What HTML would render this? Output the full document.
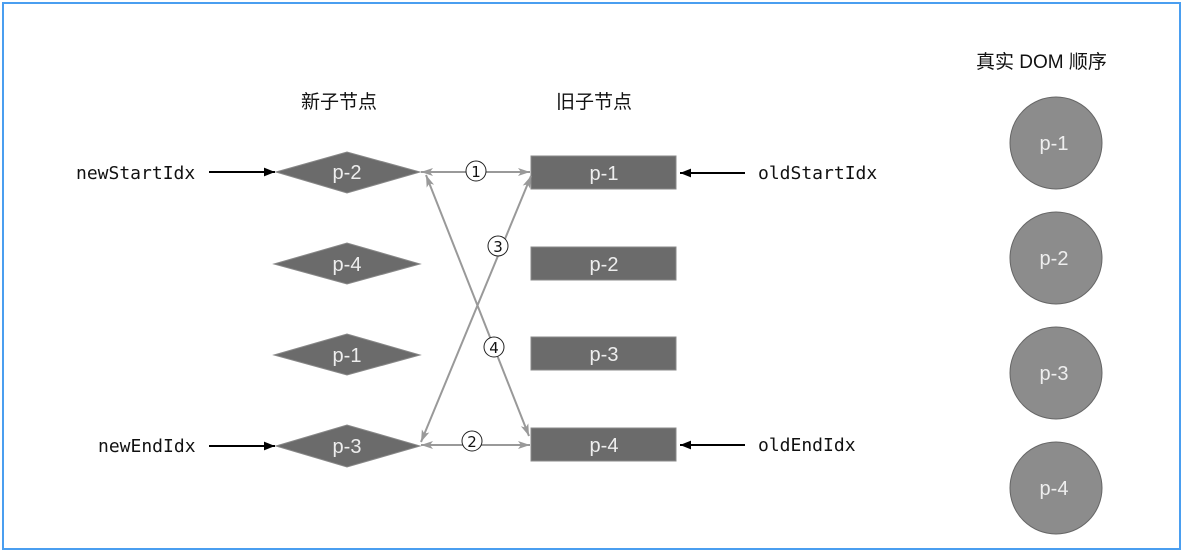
<!DOCTYPE html>
<html><head><meta charset="utf-8"><style>
body{margin:0;background:#fff;}
svg{display:block}
.m{font-family:"DejaVu Sans Mono","Liberation Mono",monospace;font-size:18px;fill:#111}
.w{font-family:"Liberation Sans",sans-serif;font-size:20px;fill:#eee}
.h{font-family:"Liberation Sans","Noto Sans CJK SC",sans-serif;font-size:19px;fill:#111}
</style></head><body>
<svg width="1184" height="555" viewBox="0 0 1184 555" xmlns="http://www.w3.org/2000/svg">
<defs>
<marker id="b" viewBox="0 0 10 10" refX="10" refY="5" markerWidth="11" markerHeight="11" markerUnits="userSpaceOnUse" orient="auto-start-reverse"><path d="M0,1 L10,5 L0,9 z" fill="#000"/></marker>
<marker id="g" viewBox="0 0 12 10" refX="12" refY="5" markerWidth="14" markerHeight="10" markerUnits="userSpaceOnUse" orient="auto-start-reverse"><path d="M0,1 L12,5 L0,9 L3,5 z" fill="#999"/></marker>
</defs>
<rect x="3" y="3" width="1177" height="546" fill="none" stroke="#4a9ef0" stroke-width="2"/>
<text class="h" x="301" y="108">新子节点</text>
<text class="h" x="556" y="108">旧子节点</text>
<text class="h" x="976" y="68">真实 DOM 顺序</text>
<g fill="#6b6b6b" stroke="#888" stroke-width="1">
<polygon points="276,172 347,152 420,172 347,193"/>
<polygon points="274,264 347,243 420,264 347,284"/>
<polygon points="274,355 347,334 420,355 347,375"/>
<polygon points="276,446 347,425 420,446 347,467"/>
<rect x="531" y="156" width="145" height="33"/>
<rect x="531" y="247" width="145" height="33"/>
<rect x="531" y="337" width="145" height="33"/>
<rect x="531" y="428" width="145" height="33"/>
</g>
<g class="w" text-anchor="middle">
<text x="347" y="179">p-2</text><text x="347" y="271">p-4</text><text x="347" y="362">p-1</text><text x="347" y="453">p-3</text>
<text x="604" y="180">p-1</text><text x="604" y="271">p-2</text><text x="604" y="361">p-3</text><text x="604" y="452">p-4</text>
</g>
<g fill="#8c8c8c" stroke="#666" stroke-width="1">
<circle cx="1056" cy="143" r="46"/><circle cx="1056" cy="258" r="46"/><circle cx="1056" cy="373" r="46"/><circle cx="1056" cy="488" r="46"/>
</g>
<g class="w" text-anchor="middle">
<text x="1054" y="150">p-1</text><text x="1054" y="265">p-2</text><text x="1054" y="380">p-3</text><text x="1054" y="495">p-4</text>
</g>
<g stroke="#999" stroke-width="2" fill="none">
<line x1="421" y1="172" x2="530" y2="172" marker-start="url(#g)" marker-end="url(#g)"/>
<line x1="421" y1="445" x2="530" y2="445" marker-start="url(#g)" marker-end="url(#g)"/>
<line x1="426" y1="175" x2="529" y2="436" marker-start="url(#g)" marker-end="url(#g)"/>
<line x1="421" y1="442" x2="531" y2="176" marker-start="url(#g)" marker-end="url(#g)"/>
</g>
<g font-family="DejaVu Sans,sans-serif" fill="#111" text-anchor="middle">
<circle cx="476" cy="171" r="10" fill="#fff" stroke="#222"/><text x="476" y="177" font-size="15">1</text>
<circle cx="498" cy="246" r="10" fill="#fff" stroke="#222"/><text x="498" y="252" font-size="15">3</text>
<circle cx="494" cy="347" r="10" fill="#fff" stroke="#222"/><text x="494" y="353" font-size="15">4</text>
<circle cx="472" cy="441" r="10" fill="#fff" stroke="#222"/><text x="472" y="447" font-size="15">2</text>
</g>
<g stroke="#000" stroke-width="2">
<line x1="209" y1="172" x2="275" y2="172" marker-end="url(#b)"/>
<line x1="209" y1="446" x2="275" y2="446" marker-end="url(#b)"/>
<line x1="745" y1="173" x2="680" y2="173" marker-end="url(#b)"/>
<line x1="745" y1="445" x2="680" y2="445" marker-end="url(#b)"/>
</g>
<text class="m" x="76" y="179">newStartIdx</text>
<text class="m" x="98" y="452">newEndIdx</text>
<text class="m" x="758" y="179">oldStartIdx</text>
<text class="m" x="758" y="451">oldEndIdx</text>
</svg>
</body></html>
